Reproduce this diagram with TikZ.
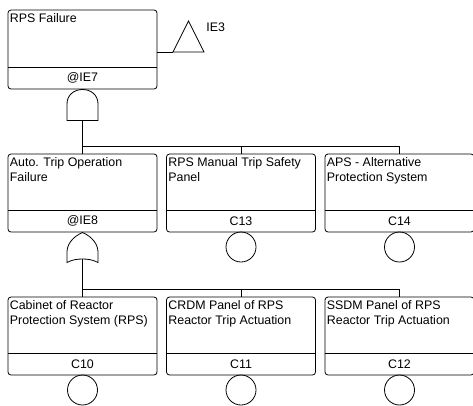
\documentclass[tikz,border=0pt]{standalone}
\usepackage{fontspec}
\setmainfont{Liberation Sans}
\newcommand\FTbox[6]{% name, x, y, height, text, label
  \node[ftbox, minimum height=#4pt] (#1) at (#2,#3) {};
  \draw ([yshift=22pt]#1.south west) -- ([yshift=22pt]#1.south east);
  \node[fttext] (#1t) at ([xshift=1.5pt,yshift=-2.6pt]#1.north west) {\strut #5};
  \node[ftlabel] (#1l) at ([yshift=11pt]#1.south) {#6};
}
\begin{document}
\begin{tikzpicture}[x=1pt,y=-1pt, line width=0.8pt,
  ftbox/.style={draw, rounded corners=3pt, minimum width=149pt, inner sep=0pt, outer sep=0pt, anchor=north west},
  fttext/.style={anchor=north west, align=left, inner sep=0pt, font=\fontsize{12.4}{14.2}\selectfont},
  ftlabel/.style={inner sep=0pt, font=\fontsize{12.4}{14.2}\selectfont},
  basic/.style={draw, circle, minimum size=30pt, inner sep=0pt, outer sep=0pt, anchor=north}]
\useasboundingbox (0,0) rectangle (473,405);

% row 1
\FTbox{b1}{8}{10}{79}{RPS Failure}{@IE7}
% row 2
\FTbox{b21}{8}{154}{78}{Auto. Trip Operation\\Failure}{@IE8}
\FTbox{b22}{166.5}{154}{78}{RPS Manual Trip Safety\\Panel}{C13}
\FTbox{b23}{325}{154}{78}{APS - Alternative\\Protection System}{C14}
% row 3
\FTbox{b31}{8}{297}{78}{Cabinet of Reactor\\Protection System (RPS)}{C10}
\FTbox{b32}{166.5}{297}{78}{CRDM Panel of RPS\\Reactor Trip Actuation}{C11}
\FTbox{b33}{325}{297}{78}{SSDM Panel of RPS\\Reactor Trip Actuation}{C12}

% transfer triangle
\coordinate (tri) at (173,52);
\draw (tri) -- (188.5,21) -- (204,52) -- cycle;
\draw (b1.east |- tri) -- (tri);
\node[ftlabel, anchor=base west] (ie3) at (206,31.5) {IE3};

% AND gate
\coordinate (g1out) at (82.5,120.5);
\draw (67,120.5) -- (67,104) .. controls (67,95) and (74,89.5) .. (82.5,89.5)
      .. controls (91,89.5) and (98,95) .. (98,104) -- (98,120.5) -- cycle;

% OR gate
\coordinate (g2out) at (82.5,259);
\draw (82.5,232.5) .. controls (72,237) and (67,245) .. (67,252) -- (67,262.5)
      .. controls (72,259.8) and (77,259) .. (82.5,259)
      .. controls (88,259) and (93,259.8) .. (98,262.5) -- (98,252)
      .. controls (98,245) and (93,237) .. (82.5,232.5) -- cycle;

% connectors
\coordinate (bus1) at (0,146);
\coordinate (bus2) at (0,289);
\draw (g1out) -- (b21.north);
\draw (g1out |- bus1) -| (b22.north);
\draw (g1out |- bus1) -| (b23.north);
\draw (g2out) -- (b31.north);
\draw (g2out |- bus2) -| (b32.north);
\draw (g2out |- bus2) -| (b33.north);

% basic events
\node[basic] (c13) at (b22.south) {};
\node[basic] (c14) at (b23.south) {};
\node[basic] (c10) at (b31.south) {};
\node[basic] (c11) at (b32.south) {};
\node[basic] (c12) at (b33.south) {};
\end{tikzpicture}
\end{document}
